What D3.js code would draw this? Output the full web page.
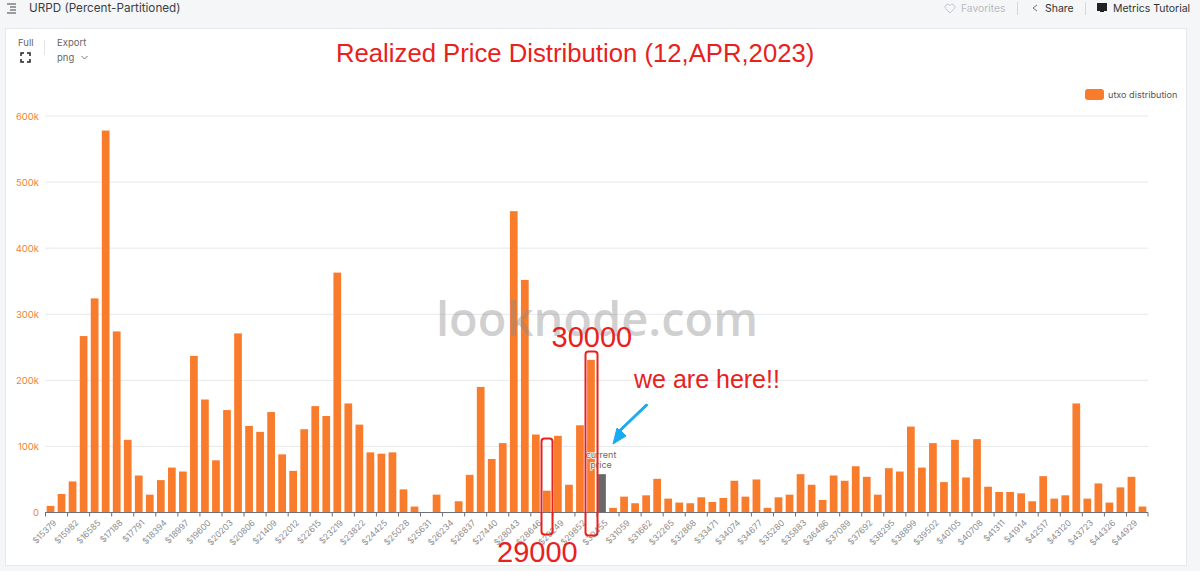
<!DOCTYPE html>
<html><head><meta charset="utf-8">
<script src="https://cdn.jsdelivr.net/npm/d3@7"></script>
<style>html,body{margin:0;padding:0;background:#f5f6f8;overflow:hidden}svg{display:block}</style>
</head><body><svg id="c" width="1200" height="571"></svg>
<script>
const tickLabels = ["$15379","$15982","$16585","$17188","$17791","$18394","$18997","$19600","$20203","$20806","$21409","$22012","$22615","$23219","$23822","$24425","$25028","$25631","$26234","$26837","$27440","$28043","$28646","$29249","$29852","$30455","$31059","$31662","$32265","$32868","$33471","$34074","$34677","$35280","$35883","$36486","$37089","$37692","$38295","$38899","$39502","$40105","$40708","$41311","$41914","$42517","$43120","$43723","$44326","$44929"];
const utxoValues = [10,28,47,267,324,578,274,110,56,27,49,68,62,237,171,79,155,271,131,122,152,88,63,126,161,146,363,165,133,91,89,91,35,9,0,27,0,17,57,190,81,105,456,352,118,33,116,42,132,231,58,7,24,14,26,51,21,15,14,23,16,22,48,24,50,7,23,27,58,42,19,56,48,70,54,27,67,62,130,68,105,46,110,53,111,39,31,31,29,17,55,21,26,165,21,44,15,38,54,9];
const currentIndex = 50;
const yTicks = [0,100,200,300,400,500,600];
const F = "Inter, 'Noto Sans', sans-serif";
const svg = d3.select("#c");
svg.append("rect").attr("x",5.5).attr("y",28.5).attr("width",1181).attr("height",537).attr("fill","#fff").attr("stroke","#e6e8ec");

const x = d3.scaleBand().domain(d3.range(utxoValues.length)).range([45,1148]).paddingInner(0.3).paddingOuter(0.15);
const step = x.step();
const y = d3.scaleLinear().domain([0,600]).range([512.5,116]);

// grid + y labels
const gy = svg.append("g").attr("transform","translate(45,0)").call(d3.axisLeft(y).tickValues(yTicks).tickSize(0).tickPadding(6).tickFormat(d=>d?d+"k":"0"));
gy.select(".domain").remove();
gy.selectAll("text").attr("fill","#f5822f").attr("font-family",F).attr("font-size",9.5).attr("text-anchor","end");
svg.append("g").selectAll("line").data(yTicks.slice(1)).join("line").attr("x1",45).attr("x2",1148).attr("y1",d=>y(d)).attr("y2",d=>y(d)).attr("stroke","#e6e8ec");

// bars
svg.append("g").selectAll("rect").data(utxoValues).join("rect")
 .attr("x",(d,i)=>x(i)).attr("width",x.bandwidth()).attr("y",d=>y(d)).attr("height",d=>y(0)-y(d))
 .attr("fill",(d,i)=>i===currentIndex?"#696969":"#f97b2c");

// x axis
const tickScale = d3.scalePoint().domain(tickLabels).range([45,45+step*2*(tickLabels.length-1)]);
const gx = svg.append("g").attr("transform",`translate(0,${y(0)})`).call(d3.axisBottom(tickScale).tickSize(4).tickPadding(3));
gx.select(".domain").attr("d",`M45,0H1148`).attr("stroke","#6e7079");
gx.selectAll("line").attr("stroke","#6e7079");
gx.selectAll("text").attr("fill","#8c8c8c").attr("font-family",F).attr("font-size",8.5)
 .attr("text-anchor","end").attr("transform","translate(3,1) rotate(-45)").attr("dx",-1).attr("dy",6);
gx.append("line").attr("x1",1148).attr("x2",1148).attr("y2",4).attr("stroke","#6e7079");

// current price label
const cx = x(currentIndex)+x.bandwidth()/2;
["current","price"].forEach((t,i)=>svg.append("text").attr("x",cx-1).attr("y",458+i*9.5).attr("text-anchor","middle").attr("font-family",F).attr("font-size",9).attr("fill","#6a6a6a").attr("stroke","#fff").attr("stroke-width",1.5).attr("paint-order","stroke").text(t));

// watermark
svg.append("text").attr("x",597).attr("y",336).attr("text-anchor","middle").attr("font-family","'Open Sans', sans-serif").attr("font-weight",600).attr("font-size",47).attr("fill","#8c8c8c").attr("fill-opacity",.42).text("looknode.com");

// header
const hdr=(t,xp,yp,s,c,a)=>svg.append("text").attr("x",xp).attr("y",yp).attr("font-family",F).attr("font-size",s).attr("fill",c).attr("text-anchor",a||"start").text(t);
hdr("URPD (Percent-Partitioned)",29,12,11.7,"#3a3f47");
const m=svg.append("g").attr("stroke","#444").attr("stroke-width",1);
[[7,16,4],[10,16,7],[10,16,10],[7,16,13]].forEach(l=>m.append("line").attr("x1",l[0]).attr("x2",l[1]).attr("y1",l[2]).attr("y2",l[2]));
hdr("Favorites",961,12,10.3,"#b9bcc2");
svg.append("path").attr("d","M950 13 l-4.5 -4.5 a2.6 2.6 0 0 1 4.5 -3 a2.6 2.6 0 0 1 4.5 3 z").attr("fill","none").attr("stroke","#c3c6cb");
hdr("Share",1045,12,10.5,"#333");
svg.append("path").attr("d","M1037 5 l-4 3 l4 3").attr("fill","none").attr("stroke","#777");
hdr("Metrics Tutorial",1113,12,10.5,"#333");
svg.append("path").attr("d","M1097 3 h10 v8 h-3 v1 h-4 v-1 h-3 z").attr("fill","#222");
[[1017],[1085]].forEach(v=>svg.append("line").attr("x1",v[0]+.5).attr("x2",v[0]+.5).attr("y1",2).attr("y2",15).attr("stroke","#d5d7db"));

// toolbar
hdr("Full",18,46,9.5,"#666");
hdr("Export",57,46,9.5,"#666");
hdr("png",57,61,9.5,"#666");
svg.append("path").attr("d","M81.5 56 l3 3 l3 -3").attr("fill","none").attr("stroke","#777");
svg.append("line").attr("x1",44.5).attr("x2",44.5).attr("y1",40).attr("y2",55).attr("stroke","#e3e5e8");
svg.append("path").attr("d","M21 56 v-3 h3 M27 53 h3 v3 M30 59 v3 h-3 M24 62 h-3 v-3").attr("fill","none").attr("stroke","#222").attr("stroke-width",1.5);

// legend
svg.append("rect").attr("x",1085).attr("y",89).attr("width",19).attr("height",11).attr("rx",3).attr("fill","#f97b2c");
hdr("utxo distribution",1108,98,9.1,"#555");

// red annotations
const red="#e8211d";
const rt=(t,xp,yp,s)=>svg.append("text").attr("x",xp).attr("y",yp).attr("font-family","'Liberation Sans', Arial, sans-serif").attr("font-size",s).attr("fill",red).text(t);
rt("Realized Price Distribution (12,APR,2023)",336,62,25.7);
rt("30000",551.5,347,29);
rt("29000",497,562,29);
rt("we are here!!",634,388,25);
svg.append("rect").attr("x",541.5).attr("y",438.5).attr("width",11).attr("height",96).attr("rx",3).attr("fill","none").attr("stroke",red).attr("stroke-width",2);
svg.append("rect").attr("x",585.5).attr("y",351.5).attr("width",12).attr("height",184).attr("rx",3).attr("fill","none").attr("stroke",red).attr("stroke-width",2);

// blue arrow
svg.append("path").attr("d","M648 405 L621 431 L626 436 L613 444 L617 428 L619 430 L646 404 Z").attr("fill","#19aaf0").attr("stroke","#19aaf0").attr("stroke-width",1).attr("stroke-linejoin","round");
</script></body></html>
